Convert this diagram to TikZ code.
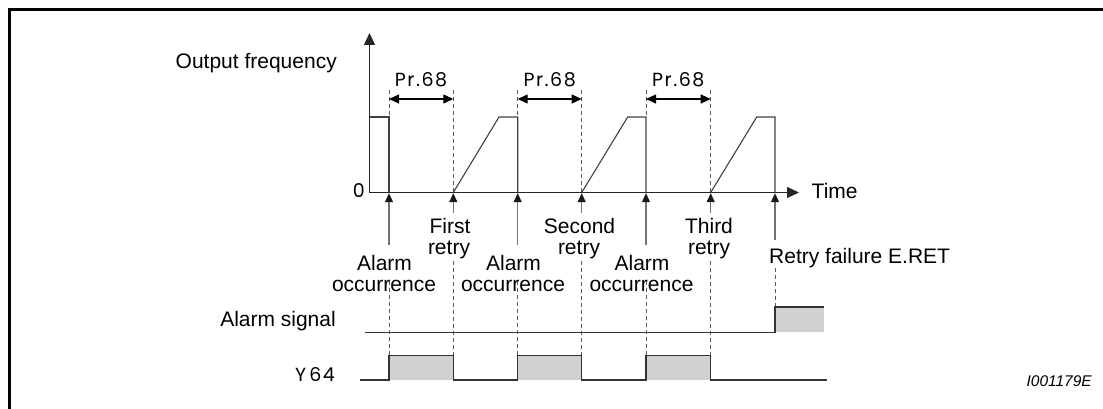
\documentclass[tikz,border=0pt]{standalone}
\usepackage{fontspec}
\setmainfont{Liberation Sans}
\newfontfamily\prfont[LetterSpace=8]{Poppins}
\usetikzlibrary{arrows.meta}
\begin{document}
\begin{tikzpicture}[x=1pt,y=-1pt]
\tikzset{
 ax/.style={line width=1.4pt, draw=black!85},
 sig/.style={line width=1.3pt, draw=black!80},
 curve/.style={line width=1.1pt, draw=black!75},
 vline/.style={line width=1.1pt, draw=black!55},
 dsh/.style={line width=1pt, draw=black!65, dash pattern=on 4pt off 3pt},
 bigtip/.style={-{Triangle[length=12pt,width=11pt]}},
 tip/.style={-{Triangle[length=9pt,width=8pt,color=black!90]}},
 dimtip/.style={{Triangle[length=10pt,width=9pt]}-{Triangle[length=10pt,width=9pt]}},
 lbl/.style={font=\fontsize{21}{21}\selectfont, inner sep=0pt, anchor=base},
 prl/.style={font=\prfont\fontsize{19}{19}\selectfont, inner sep=0pt, anchor=base},
 fillg/.style={fill=black!18},
}
\useasboundingbox (0,0) rectangle (1103,409);
% frame
\draw[line width=3pt] (9,420) -- (9,10) -- (1115,10);

% key coordinates
\coordinate (O) at (369.5,192.5);
\coordinate (ytop) at (369.5,33);
\coordinate (xend) at (799,192.5);
\foreach \n/\x in {A1/389,A2/517.7,A3/646,F/775,R1/453.3,R2/581.7,R3/710.7}{
  \coordinate (\n) at (\x,192.5);
}

% dimension dashed extension lines
\foreach \n in {A1,A2,A3}{ \draw[dsh] ([yshift=102.5pt]\n) -- ([yshift=75.5pt]\n); }
\foreach \n in {R1,R2,R3}{ \draw[dsh] ([yshift=102.5pt]\n) -- (\n); }

% output frequency curve
\draw[curve] (O) -- (369.5,117) -- (389,117) -- (A1);
\draw[curve] (R1) -- (499,117) -- (517.7,117) -- (A2);
\draw[curve] (R2) -- (627.7,117) -- (646,117) -- (A3);
\draw[curve] (R3) -- (756.7,117) -- (775,117) -- (F);

% axes
\draw[ax,bigtip] (O) -- (ytop);
\draw[ax,bigtip] (O) -- (xend);

% Pr.68 dimension arrows
\draw[line width=1.2pt, dimtip] (389,99) -- (453.3,99);
\draw[line width=1.2pt, dimtip] (517.7,99) -- (581.7,99);
\draw[line width=1.2pt, dimtip] (646,99) -- (710.7,99);
\node[prl] (p1) at (421,86.7) {Pr.68};
\node[prl] (p2) at (549.7,86.7) {Pr.68};
\node[prl] (p3) at (678.3,86.7) {Pr.68};

% up arrows below axis
\foreach \n in {A1,A2,A3}{ \draw[vline,tip] ([yshift=-52.5pt]\n) -- ([yshift=-0.7pt]\n); }
\foreach \n in {R1,R2,R3}{ \draw[vline,tip] ([yshift=-20.5pt]\n) -- ([yshift=-0.7pt]\n); }
\draw[vline,tip] ([yshift=-47.5pt]F) -- ([yshift=-0.7pt]F);

% dashed lines down to signals
\foreach \n in {A1,A2,A3}{ \draw[dsh] ([yshift=-88pt]\n) -- ([yshift=-163.2pt]\n); }
\foreach \n in {R1,R2,R3}{ \draw[dsh] ([yshift=-68pt]\n) -- ([yshift=-163.2pt]\n); }
\draw[dsh] ([yshift=-75pt]F) -- ([yshift=-114.5pt]F);

% alarm signal
\fill[fillg] (775,307) rectangle (824,332.3);
\draw[sig] (365,332.3) -- (775,332.3) -- (775,307) -- (824,307);

% Y64
\fill[fillg] (389,355.7) rectangle (453.3,380);
\fill[fillg] (517.7,355.7) rectangle (581.7,380);
\fill[fillg] (646,355.7) rectangle (710.7,380);
\draw[sig] (360,380) -- (389,380) -- (389,355.7) -- (453.3,355.7) -- (453.3,380)
 -- (517.7,380) -- (517.7,355.7) -- (581.7,355.7) -- (581.7,380)
 -- (646,380) -- (646,355.7) -- (710.7,355.7) -- (710.7,380) -- (827,380);

% labels
\node[lbl, anchor=base east] (of) at (337,68.5) {Output frequency};
\node[prl, anchor=base east] (zero) at (365,197.5) {0};
\node[lbl, anchor=base west] (time) at (811.5,198) {Time};

\node[lbl] (f1) at (450,233.3) {First};
\node[lbl] (f2) at (449,254) {retry};
\node[lbl] (s1) at (579.5,233.3) {Second};
\node[lbl] (s2) at (579,254) {retry};
\node[lbl] (t1) at (709,233.3) {Third};
\node[lbl] (t2) at (709,254) {retry};

\node[lbl] (a11) at (384.5,270.7) {Alarm};
\node[lbl] (a12) at (384,291.7) {occurrence};
\node[lbl] (a21) at (513.5,270.7) {Alarm};
\node[lbl] (a22) at (513,291.7) {occurrence};
\node[lbl] (a31) at (642,270.7) {Alarm};
\node[lbl] (a32) at (641.5,291.7) {occurrence};

\node[lbl, anchor=base west] (rf) at (769,263.3) {Retry failure E.RET};
\node[lbl, anchor=base east] (as) at (336,326) {Alarm signal};
\node[prl, anchor=base east] (y64) at (335,381) {Y\,64};
\node[inner sep=0pt, anchor=base east, font=\fontsize{15.5}{15.5}\selectfont\itshape] (id) at (1092,386.5) {I001179E};
\end{tikzpicture}
\end{document}
